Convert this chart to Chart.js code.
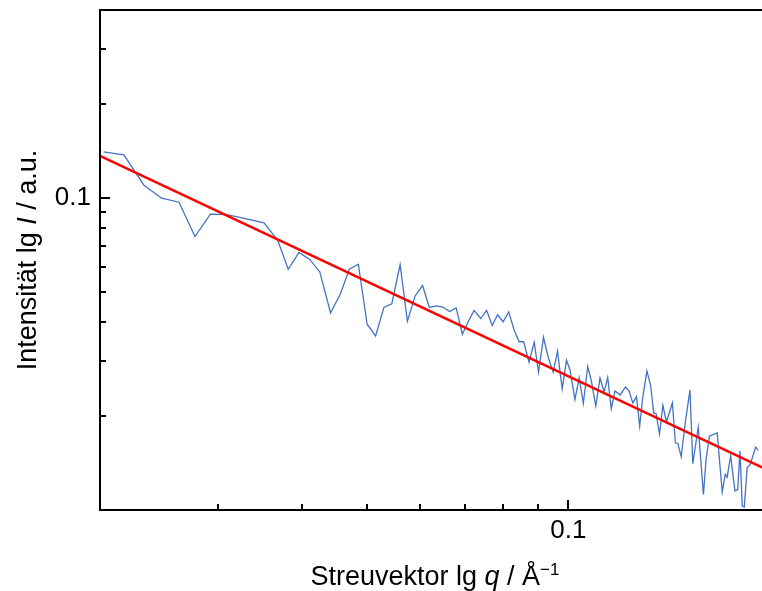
<!DOCTYPE html>
<html>
<head>
<meta charset="utf-8">
<script src="https://cdn.jsdelivr.net/npm/chart.js@4.4.1/dist/chart.umd.min.js"></script>
<style>
  html, body { margin: 0; padding: 0; background: #fff; overflow: hidden; }
  #wrap { width: 772px; height: 591px; }
</style>
</head>
<body>
<div id="wrap"><canvas id="chart"></canvas></div>
<script>
// scattering vector q (1/Å) and measured intensity (a.u.)
const qValues = [
  0.02025, 0.02171, 0.02326, 0.02472, 0.02624, 0.02772, 0.02923, 0.03088, 0.03196, 0.03515,
  0.03684, 0.03819, 0.03963, 0.04112, 0.04257, 0.04417, 0.04568, 0.04711, 0.0486, 0.05009,
  0.05157, 0.05306, 0.05453, 0.0561, 0.05752, 0.05907, 0.0606, 0.06203, 0.06359, 0.06498,
  0.06649, 0.06802, 0.06948, 0.07082, 0.07234, 0.07401, 0.07552, 0.077, 0.07843, 0.07992,
  0.08148, 0.08302, 0.08447, 0.08578, 0.08736, 0.08894, 0.09027, 0.09183, 0.09336, 0.09493,
  0.09636, 0.09792, 0.09938, 0.1006, 0.1023, 0.1038, 0.1053, 0.1069, 0.1082, 0.1099,
  0.1115, 0.1131, 0.1145, 0.1159, 0.1174, 0.1195, 0.1217, 0.1232, 0.1248, 0.1264,
  0.1278, 0.1291, 0.131, 0.1327, 0.1341, 0.1352, 0.1368, 0.1384, 0.1401, 0.143,
  0.1445, 0.1457, 0.1474, 0.1495, 0.1519, 0.1534, 0.1563, 0.1591, 0.1606, 0.1624,
  0.1668, 0.1697, 0.1715, 0.1726, 0.1747, 0.1773, 0.179, 0.1804, 0.1818, 0.1831,
  0.1849, 0.1868, 0.1904, 0.1921
];
const intensity = [
  0.1404, 0.1373, 0.1098, 0.0998, 0.09687, 0.0752, 0.08866, 0.08845, 0.08717, 0.08316,
  0.07317, 0.05908, 0.06688, 0.06352, 0.05791, 0.0428, 0.04924, 0.05908, 0.06131, 0.03937,
  0.03611, 0.04457, 0.04581, 0.06108, 0.04025, 0.04852, 0.0524, 0.04457, 0.04507, 0.04471,
  0.04325, 0.04441, 0.03657, 0.03996, 0.0436, 0.04107, 0.0436, 0.03903, 0.04223, 0.04011,
  0.04312, 0.03767, 0.0346, 0.0346, 0.02975, 0.03448, 0.02763, 0.03577, 0.03075, 0.02769,
  0.03227, 0.02443, 0.03019, 0.02804, 0.02259, 0.02653, 0.02198, 0.02882, 0.02604, 0.02154,
  0.02649, 0.02392, 0.02659, 0.02113, 0.02407, 0.02337, 0.02479, 0.02411, 0.02203, 0.02309,
  0.01855, 0.02276, 0.0279, 0.0251, 0.02046, 0.02037, 0.01752, 0.02166, 0.01914, 0.02203,
  0.01639, 0.01636, 0.01481, 0.0191, 0.02424, 0.01408, 0.01841, 0.01121, 0.01461, 0.01725,
  0.01767, 0.01142, 0.01301, 0.01273, 0.01492, 0.01151, 0.01163, 0.01548, 0.01029, 0.01022,
  0.01365, 0.01398, 0.01591, 0.01553
];
// power-law fit, end points
const fitQ = [0.02, 0.2];
const fitI = [0.1363, 0.01332];

const xTickValues = [0.03, 0.04, 0.05, 0.06, 0.07, 0.08, 0.09, 0.1];
const yTickValues = [0.02, 0.03, 0.04, 0.05, 0.06, 0.07, 0.08, 0.09, 0.1, 0.2, 0.3];
const labelledTicks = [0.1];

const FONT = "'Liberation Sans', Arial, sans-serif";

function drawRich(ctx, parts, size) {
  let w = 0;
  parts.forEach(p => {
    ctx.font = (p.italic ? 'italic ' : '') + (p.size || size) + 'px ' + FONT;
    p.w = ctx.measureText(p.t).width;
    w += p.w;
  });
  let pos = -w / 2;
  parts.forEach(p => {
    ctx.font = (p.italic ? 'italic ' : '') + (p.size || size) + 'px ' + FONT;
    ctx.fillText(p.t, pos, p.dy || 0);
    pos += p.w;
  });
}

const axesPlugin = {
  id: 'axesPlugin',
  afterDraw(chart) {
    const { ctx, chartArea: a, scales: { x, y } } = chart;
    ctx.save();
    ctx.strokeStyle = '#000';
    ctx.lineWidth = 2;
    ctx.strokeRect(a.left, a.top, a.right - a.left, a.bottom - a.top);

    // inward tick marks
    ctx.beginPath();
    xTickValues.forEach(v => {
      const px = Math.round(x.getPixelForValue(v));
      const len = labelledTicks.includes(v) ? 10 : 6;
      ctx.moveTo(px, a.bottom);
      ctx.lineTo(px, a.bottom - len);
    });
    yTickValues.forEach(v => {
      const py = Math.round(y.getPixelForValue(v));
      const len = labelledTicks.includes(v) ? 10 : 6;
      ctx.moveTo(a.left, py);
      ctx.lineTo(a.left + len, py);
    });
    ctx.stroke();

    // axis titles
    ctx.fillStyle = '#000';
    ctx.textBaseline = 'alphabetic';
    ctx.textAlign = 'left';
    ctx.save();
    ctx.translate((a.left + a.right) / 2, 585);
    drawRich(ctx, [
      { t: 'Streuvektor lg ' },
      { t: 'q', italic: true },
      { t: ' / Å' },
      { t: '\u22121', size: 17, dy: -10 }
    ], 27);
    ctx.restore();

    ctx.save();
    ctx.translate(36, (a.top + a.bottom) / 2);
    ctx.rotate(-Math.PI / 2);
    drawRich(ctx, [
      { t: 'Intensität lg ' },
      { t: 'I', italic: true },
      { t: ' / a.u.' }
    ], 27);
    ctx.restore();
    ctx.restore();
  }
};

const toPoints = (xs, ys) => xs.map((v, i) => ({ x: v, y: ys[i] }));

new Chart(document.getElementById('chart'), {
  type: 'line',
  data: {
    datasets: [
      {
        label: 'Fit',
        data: toPoints(fitQ, fitI),
        borderColor: '#ff0000',
        borderWidth: 2.5,
        pointRadius: 0
      },
      {
        label: 'Messung',
        data: toPoints(qValues, intensity),
        borderColor: '#4472c4',
        borderWidth: 1.3,
        pointRadius: 0,
        tension: 0
      }
    ]
  },
  options: {
    responsive: true,
    maintainAspectRatio: false,
    animation: false,
    layout: { padding: { top: 10, right: 2, left: 0, bottom: 0 } },
    plugins: { legend: { display: false }, tooltip: { enabled: false } },
    scales: {
      x: {
        type: 'logarithmic',
        min: 0.02,
        max: 0.2,
        afterBuildTicks: s => { s.ticks = xTickValues.map(v => ({ value: v })); },
        afterFit: s => { s.height = 81; s.paddingLeft = 0; s.paddingRight = 0; },
        grid: { display: false, drawTicks: false },
        border: { display: false },
        ticks: {
          autoSkip: false,
          maxRotation: 0,
          padding: 5,
          color: '#000',
          font: { family: FONT, size: 26 },
          callback: v => labelledTicks.includes(v) ? String(v) : ''
        }
      },
      y: {
        type: 'logarithmic',
        min: 0.01,
        max: 0.4,
        afterBuildTicks: s => { s.ticks = yTickValues.map(v => ({ value: v })); },
        afterFit: s => { s.width = 100; s.paddingTop = 0; s.paddingBottom = 0; },
        grid: { display: false, drawTicks: false },
        border: { display: false },
        ticks: {
          autoSkip: false,
          padding: 9,
          color: '#000',
          font: { family: FONT, size: 26 },
          callback: v => labelledTicks.includes(v) ? String(v) : ''
        }
      }
    }
  },
  plugins: [axesPlugin]
});
</script>
</body>
</html>
